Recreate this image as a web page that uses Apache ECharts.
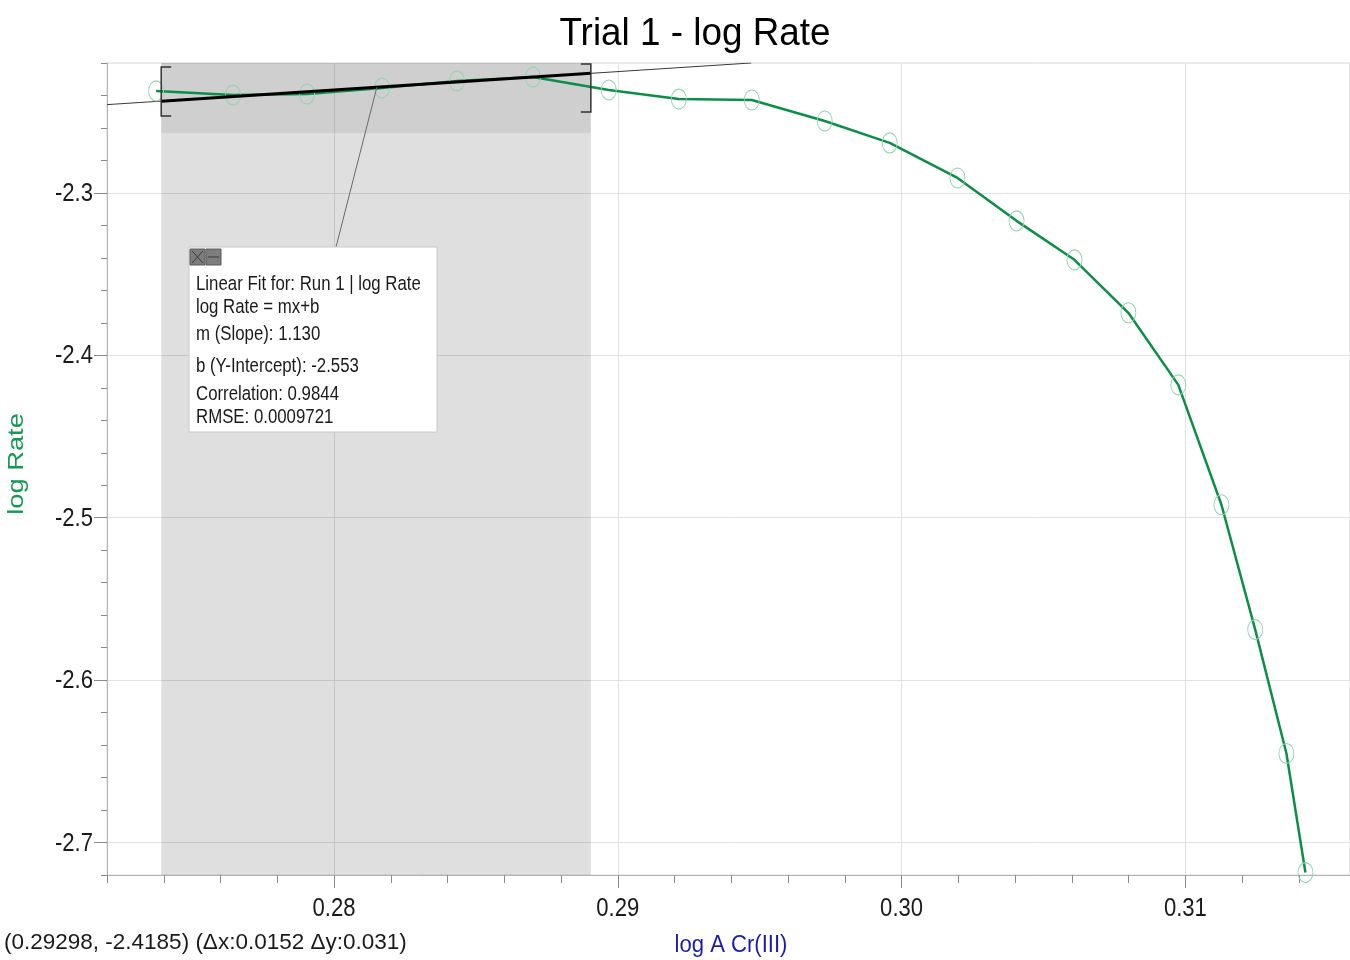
<!DOCTYPE html>
<html><head><meta charset="utf-8">
<script src="https://cdn.jsdelivr.net/npm/echarts@6/dist/echarts.min.js"></script>
<style>html,body{margin:0;padding:0;background:#fff}#c{width:1350px;height:960px}</style>
</head><body><div id="c"></div>
<script>
// ---- data ----
const logA = [0.27373, 0.27644, 0.27905, 0.28169, 0.28433, 0.28701, 0.28968, 0.29215, 0.29472, 0.29729,
              0.29958, 0.30197, 0.30405, 0.30609, 0.30799, 0.30975, 0.31127, 0.31246, 0.31356, 0.31423];
const logRate = [-2.2372, -2.2397, -2.2391, -2.2354, -2.2311, -2.2286, -2.2366, -2.2422, -2.2428, -2.2557,
                 -2.2692, -2.2908, -2.3172, -2.3412, -2.3738, -2.4182, -2.4920, -2.5689, -2.6452, -2.7185];
const xMajorTicks = [0.28, 0.29, 0.30, 0.31];
const xTickLabels = ['0.28', '0.29', '0.30', '0.31'];
const yMajorTicks = [-2.3, -2.4, -2.5, -2.6, -2.7];
const yTickLabels = ['-2.3', '-2.4', '-2.5', '-2.6', '-2.7'];
const selectionX = [0.27391, 0.28905];
const selectionBandY = [-2.2631, -2.22];
const fitExtendedX = [0.272, 0.2947];
const fitExtendedY = [-2.24564, -2.21999];
const fitSelectedX = [0.27391, 0.28905];
const fitSelectedY = [-2.24348, -2.22637];
const bracketX = [0.27391, 0.28905];
const bracketTop = [-2.2225, -2.2206];
const bracketBottom = [-2.2526, -2.2502];
const annotationAnchor = [0.28151, -2.2349];
const titleText = 'Trial 1 - log Rate';
const xName = 'log A Cr(III)';
const yName = 'log Rate';
const statusText = '(0.29298, -2.4185) (\u0394x:0.0152 \u0394y:0.031)';
const fitLines = ['Linear Fit for: Run 1 | log Rate', 'log Rate = mx+b', 'm (Slope): 1.130',
                  'b (Y-Intercept): -2.553', 'Correlation: 0.9844', 'RMSE: 0.0009721'];

// ---- chart ----
const SANS = "'Liberation Sans', Arial, sans-serif";
const chart = echarts.init(document.getElementById('c'), null, {renderer: 'canvas'});
const X0 = 0.272, X1 = 0.3158, Y0 = -2.72, Y1 = -2.22;
const fitTextY = [37, 60, 87, 119, 147, 170];

function txt(x, y, text, size, color, align, scaleX, extra) {
  return Object.assign({type: 'text', x: x, y: y, scaleX: scaleX || 1, z: 100,
    style: {text: text, font: size + 'px ' + SANS, fill: color, align: align, verticalAlign: 'middle'}}, extra || {});
}

const option = {
  animation: false,
  backgroundColor: '#ffffff',
  grid: {left: 107, right: 0, top: 63, bottom: 85, show: true, borderColor: '#d6d6d6', borderWidth: 1, backgroundColor: 'transparent'},
  xAxis: [
    {type: 'value', min: X0, max: X1, interval: 0.002,
     axisLine: {show: true, onZero: false, lineStyle: {color: '#b4b4b4', width: 1}},
     axisTick: {show: true, length: 8, lineStyle: {color: '#8a8a8a'}},
     axisLabel: {show: false}, splitLine: {show: false}},
    {type: 'value', min: X0, max: X1, position: 'bottom',
     axisLine: {show: false, onZero: false},
     axisTick: {show: true, length: 13, customValues: xMajorTicks, lineStyle: {color: '#8a8a8a'}},
     axisLabel: {show: false, customValues: xMajorTicks},
     splitLine: {show: true, lineStyle: {color: '#e2e2e2', width: 1}}}
  ],
  yAxis: [
    {type: 'value', min: Y0, max: Y1, interval: 0.02,
     axisLine: {show: true, onZero: false, lineStyle: {color: '#b4b4b4', width: 1}},
     axisTick: {show: true, length: 6, lineStyle: {color: '#8a8a8a'}},
     axisLabel: {show: false}, splitLine: {show: false}},
    {type: 'value', min: Y0, max: Y1, position: 'left',
     axisLine: {show: false, onZero: false},
     axisTick: {show: true, length: 13, customValues: yMajorTicks, lineStyle: {color: '#8a8a8a'}},
     axisLabel: {show: false, customValues: yMajorTicks},
     splitLine: {show: true, lineStyle: {color: '#e2e2e2', width: 1}}}
  ],
  series: [
    {type: 'line', xAxisIndex: 1, yAxisIndex: 1, data: [], z: 1, silent: true,
     markArea: {silent: true, itemStyle: {color: 'rgba(0,0,0,0.125)'},
       data: [[{xAxis: selectionX[0], yAxis: Y0}, {xAxis: selectionX[1], yAxis: Y1}]]}},
    {type: 'line', xAxisIndex: 1, yAxisIndex: 1, data: [], z: 1, silent: true,
     markArea: {silent: true, itemStyle: {color: 'rgba(0,0,0,0.07)'},
       data: [[{xAxis: selectionX[0], yAxis: selectionBandY[0]}, {xAxis: selectionX[1], yAxis: selectionBandY[1]}]]}},
    {type: 'line', xAxisIndex: 1, yAxisIndex: 1, z: 3, silent: true, symbol: 'none',
     lineStyle: {color: '#3a3a3a', width: 1},
     data: fitExtendedX.map((x, i) => [x, fitExtendedY[i]])},
    {type: 'line', xAxisIndex: 1, yAxisIndex: 1, z: 4, silent: true, symbol: 'circle', symbolSize: [15, 20],
     itemStyle: {color: 'rgba(0,0,0,0)', borderColor: '#92d3ad', borderWidth: 1},
     lineStyle: {color: '#0b8f48', width: 2.5},
     data: logA.map((x, i) => [x, logRate[i]])},
    {type: 'line', xAxisIndex: 1, yAxisIndex: 1, z: 5, silent: true, symbol: 'none',
     lineStyle: {color: '#000000', width: 3},
     data: fitSelectedX.map((x, i) => [x, fitSelectedY[i]])},
    {type: 'custom', xAxisIndex: 1, yAxisIndex: 1, z: 6, silent: true,
     data: bracketX.map((x, i) => [x, bracketTop[i], bracketBottom[i]]),
     renderItem: function (params, api) {
       const top = api.coord([api.value(0), api.value(1)]);
       const bot = api.coord([api.value(0), api.value(2)]);
       const d = params.dataIndex === 0 ? 10 : -10;
       return {type: 'polyline', shape: {points: [[top[0] + d, top[1]], top, bot, [bot[0] + d, bot[1]]]},
               style: {stroke: '#333', lineWidth: 1.5, fill: null}};
     }}
  ]
};
chart.setOption(option);

const graphics = [];
// title & axis names & status text
graphics.push(txt(695, 35, titleText, 38, '#000', 'center', 0.97));
graphics.push(txt(731, 946, xName, 23, '#1c1ca8', 'center', 0.96));
graphics.push(txt(4, 943, statusText, 22.5, '#1a1a1a', 'left', 1));
graphics.push(txt(17, 464, yName, 21.5, '#129a52', 'center', 1.27, {rotation: Math.PI / 2}));
// tick labels placed via the axis scales
xMajorTicks.forEach((v, i) => {
  const p = chart.convertToPixel({xAxisIndex: 1, yAxisIndex: 1}, [v, Y0]);
  graphics.push(txt(p[0], p[1] + 34, xTickLabels[i], 26, '#1a1a1a', 'center', 0.85));
});
yMajorTicks.forEach((v, i) => {
  const p = chart.convertToPixel({xAxisIndex: 1, yAxisIndex: 1}, [X0, v]);
  graphics.push(txt(p[0] - 14, p[1] + 1, yTickLabels[i], 26, '#1a1a1a', 'right', 0.85));
});
// annotation box + connector anchored on the fit line
const anchorPx = chart.convertToPixel({xAxisIndex: 1, yAxisIndex: 1}, annotationAnchor);
const BZ = 80;
const boxChildren = [
  {type: 'rect', z: BZ, shape: {x: 0, y: 0, width: 248, height: 185}, style: {fill: '#ffffff', stroke: '#c9c9c9', lineWidth: 1}},
  {type: 'rect', z: BZ + 1, shape: {x: 1, y: 2, width: 15, height: 16}, style: {fill: '#7d7d7d', stroke: '#5a5a5a', lineWidth: 1}},
  {type: 'rect', z: BZ + 1, shape: {x: 17, y: 2, width: 15, height: 16}, style: {fill: '#7d7d7d', stroke: '#5a5a5a', lineWidth: 1}},
  {type: 'line', z: BZ + 2, shape: {x1: 3, y1: 4, x2: 14, y2: 16}, style: {stroke: '#3a3a3a', lineWidth: 1}},
  {type: 'line', z: BZ + 2, shape: {x1: 14, y1: 4, x2: 3, y2: 16}, style: {stroke: '#3a3a3a', lineWidth: 1}},
  {type: 'line', z: BZ + 2, shape: {x1: 19, y1: 10, x2: 30, y2: 10}, style: {stroke: '#3a3a3a', lineWidth: 1}}
];
fitLines.forEach((t, i) => boxChildren.push(txt(7, fitTextY[i], t, 20.5, '#1a1a1a', 'left', 0.82)));
graphics.push({type: 'line', z: 50, shape: {x1: 336, y1: 247, x2: anchorPx[0], y2: anchorPx[1]}, style: {stroke: '#6a6a6a', lineWidth: 1}});
graphics.push({type: 'group', x: 189, y: 247, z: BZ, children: boxChildren});
chart.setOption({graphic: graphics});
</script>
</body></html>
